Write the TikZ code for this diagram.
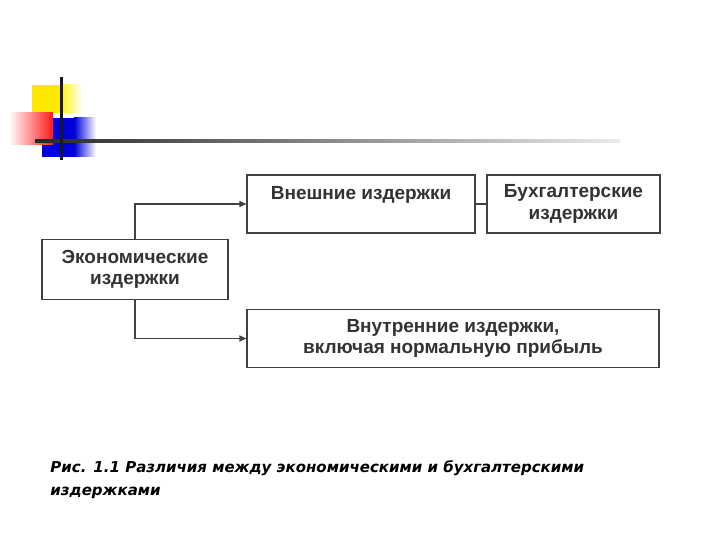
\documentclass[tikz,border=0pt]{standalone}
\usepackage{fontspec}
\setmainfont{Liberation Sans}
\newfontfamily\capfont{DejaVu Sans}
\usetikzlibrary{arrows.meta, positioning}

\begin{document}
\begin{tikzpicture}[x=1pt, y=-1pt, thick,
  box/.style={draw=black!75, line width=1.1pt, align=center, inner sep=0pt,
    text=black!80, font=\fontsize{19}{21.5}\selectfont\bfseries},
  link/.style={draw=black!75, line width=1.1pt},
  tip/.style={-{Triangle[length=7pt, width=6pt]}}]

\useasboundingbox (0,0) rectangle (720,540);

%% -- Logo (top left) --------------------------
\fill[yellow!90!orange] (32,85) rectangle (60,113);
\shade[left color=yellow!90!orange, right color=white] (60,85) rectangle (82,113);
\fill[blue!85!black] (42,118) rectangle (74,157);
\shade[left color=blue!85!black, right color=white] (74,118) rectangle (96,157);
\shade[left color=white, right color=red!90] (9,113) rectangle (53,145);
\shade[left color=black!85, right color=black!8] (35,140) rectangle (620,142.5);
\fill[black!90] (59.5,77) rectangle (62.5,160);

%% -- Boxes ------------------------------------
\node[box, minimum width=186, minimum height=60] (econ) at (135,269.5)
  {Экономические\\издержки};
\node[box, minimum width=228, minimum height=58] (ext) at (361,204)
  {Внешние издержки\\\mbox{}};
\node[box, minimum width=173, minimum height=58] (acc) at (573.5,204)
  {Бухгалтерские\\издержки};
\node[box, minimum width=412, minimum height=58] (int) at (453,338.5)
  {Внутренние издержки,\\включая нормальную прибыль};

%% -- Connectors -------------------------------
\draw[link, tip] (econ.north) |- (ext.west);
\draw[link, tip] (econ.south) |- (int.west);
\draw[link] (ext.east) -- (acc.west);

%% -- Caption ----------------------------------
\node[anchor=base west, inner sep=0pt, align=left,
  font=\capfont\fontsize{15}{23}\selectfont\bfseries\itshape] (cap) at (50,495)
  {Рис. 1.1 Различия между экономическими и бухгалтерскими\\издержками};

\end{tikzpicture}
\end{document}
